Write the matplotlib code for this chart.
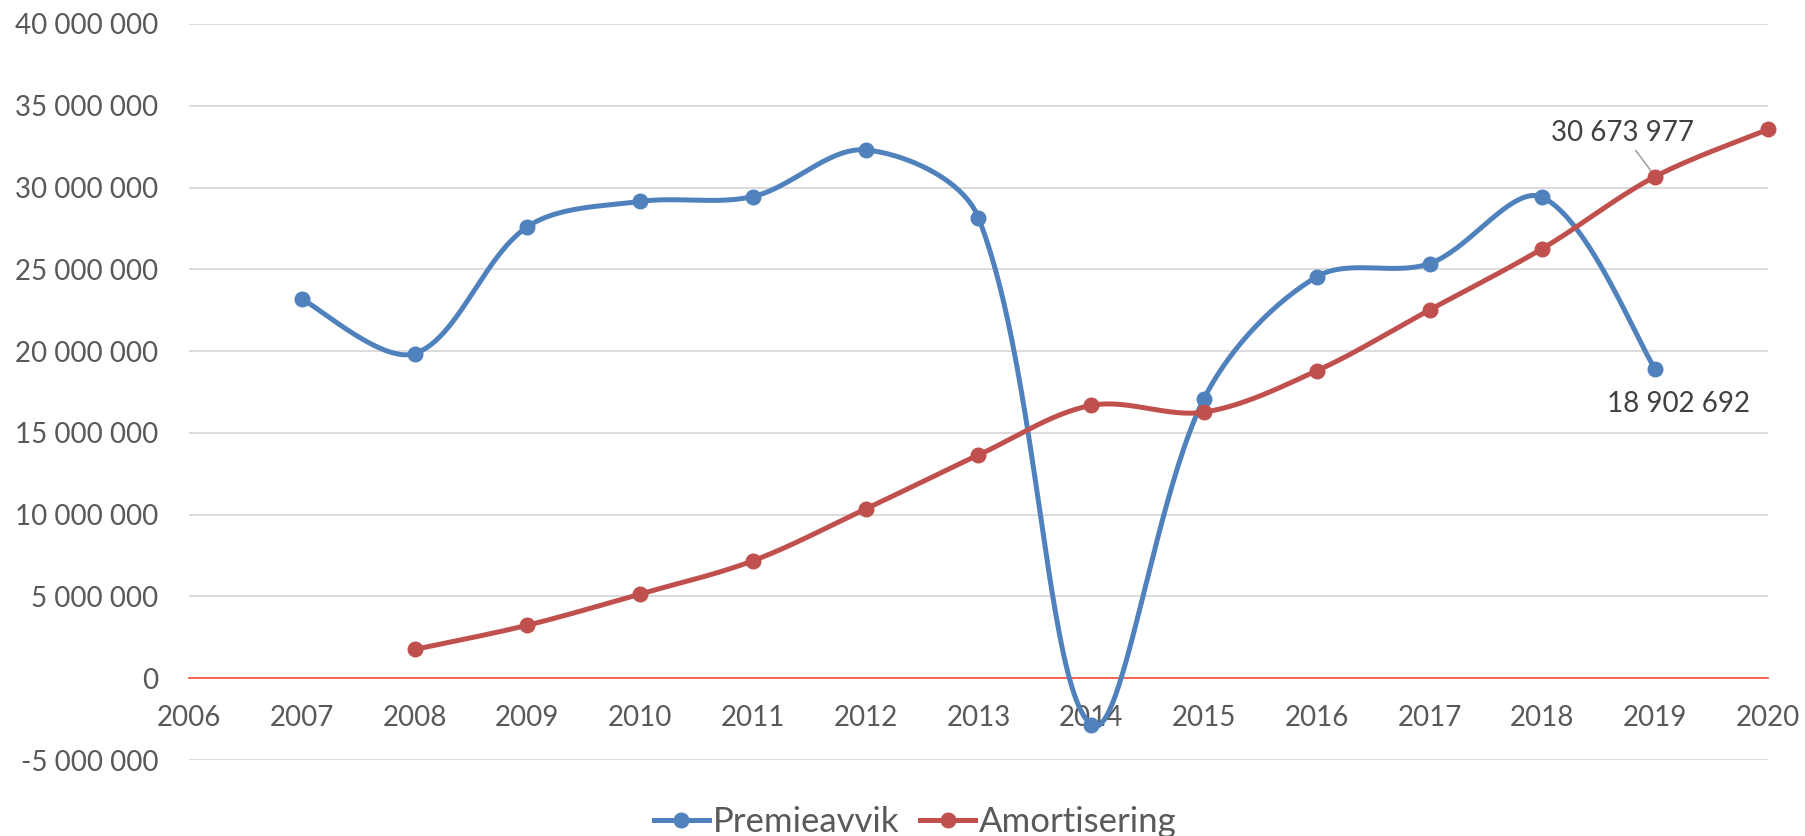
import numpy as np
import matplotlib.pyplot as plt
from matplotlib.ticker import FuncFormatter

# --- Data ---
years_prem = [2007, 2008, 2009, 2010, 2011, 2012, 2013, 2014, 2015, 2016, 2017, 2018, 2019]
premieavvik = [23180000, 19850000, 27600000, 29150000, 29450000, 32300000, 28150000,
               -2850000, 17100000, 24550000, 25350000, 29400000, 18902692]

years_amort = [2008, 2009, 2010, 2011, 2012, 2013, 2014, 2015, 2016, 2017, 2018, 2019, 2020]
amortisering = [1760000, 3240000, 5150000, 7180000, 10350000, 13650000, 16680000,
                16270000, 18800000, 22520000, 26270000, 30673977, 33550000]

x_ticks = list(range(2006, 2021))
y_ticks = list(range(-5000000, 40000001, 5000000))

BLUE = '#4F81BD'
RED = '#C0504D'
TXT = '#595959'
FONT = 'Lato'


def smooth(ax, xs, ys, n=50):
    # Bezier smoothing in screen space, tangents weighted by chord length
    # (close to what Excel does for "smoothed line")
    pts = ax.transData.transform(np.column_stack([xs, ys]))
    out = []
    m = len(pts)
    for i in range(m - 1):
        p0 = pts[i - 1] if i > 0 else pts[i]
        p1 = pts[i]
        p2 = pts[i + 1]
        p3 = pts[i + 2] if i + 2 < m else pts[i + 1]
        d01 = np.linalg.norm(p1 - p0)
        d12 = np.linalg.norm(p2 - p1)
        d23 = np.linalg.norm(p3 - p2)
        c1 = p1 + (p2 - p0) * (d12 / (d01 + d12) / 3.0 if d01 > 0 else 1 / 6.0)
        c2 = p2 - (p3 - p1) * (d12 / (d12 + d23) / 3.0 if d23 > 0 else 1 / 6.0)
        t = np.linspace(0, 1, n)[:, None]
        seg = ((1 - t) ** 3) * p1 + 3 * ((1 - t) ** 2) * t * c1 + 3 * (1 - t) * t ** 2 * c2 + t ** 3 * p2
        out.append(seg if i == 0 else seg[1:])
    out = ax.transData.inverted().transform(np.vstack(out))
    return out[:, 0], out[:, 1]


fig = plt.figure(figsize=(18.05, 8.36), dpi=100)
ax = fig.add_axes([0.1047, 0.0909, 0.8748, 0.8804])
ax.set_xlim(2006, 2020)
ax.set_ylim(-5000000, 40000000)

for xs, ys, col, lab in [(years_prem, premieavvik, BLUE, 'Premieavvik'),
                         (years_amort, amortisering, RED, 'Amortisering')]:
    sx, sy = smooth(ax, xs, ys)
    ax.plot(sx, sy, color=col, lw=3.6, solid_capstyle='round', zorder=3, clip_on=False)
    ax.plot(xs, ys, 'o', color=col, ms=10.5, zorder=4, clip_on=False)
    ax.plot([], [], color=col, lw=3.6, marker='o', ms=10.5, label=lab)

ax.set_xticks(x_ticks)
ax.set_yticks(y_ticks)
ax.yaxis.set_major_formatter(FuncFormatter(lambda v, p: f'{int(v):,}'.replace(',', ' ')))

ax.grid(axis='y', color='#D9D9D9', lw=1.3, zorder=0)
ax.set_axisbelow(True)
for s in ['top', 'right', 'left']:
    ax.spines[s].set_visible(False)
ax.spines['bottom'].set_position(('data', 0))
ax.spines['bottom'].set_color('#FF5A4A')
ax.spines['bottom'].set_linewidth(1.3)
ax.tick_params(axis='both', length=0, labelsize=20, labelcolor=TXT)
ax.tick_params(axis='y', pad=22)
ax.tick_params(axis='x', pad=19)
for lbl in ax.get_xticklabels() + ax.get_yticklabels():
    lbl.set_fontfamily(FONT)

# data labels
ax.annotate('30 673 977', xy=(years_amort[11], amortisering[11]), xytext=(-33, 44),
            textcoords='offset pixels', ha='center', va='center', fontsize=20,
            color='#404040', family=FONT,
            arrowprops=dict(arrowstyle='-', color='#A6A6A6', lw=1.2, shrinkA=2, shrinkB=0))
ax.annotate('18 902 692', xy=(years_prem[12], premieavvik[12]), xytext=(23, -35),
            textcoords='offset pixels', ha='center', va='center', fontsize=20,
            color='#404040', family=FONT)

leg = fig.legend(loc='center', bbox_to_anchor=(0.507, 0.017), ncol=2, frameon=False,
                 handlelength=1.6, handletextpad=0.1, columnspacing=0.6,
                 prop={'family': FONT, 'size': 25})
for t in leg.get_texts():
    t.set_color(TXT)

fig.savefig('out.png', dpi=100)
